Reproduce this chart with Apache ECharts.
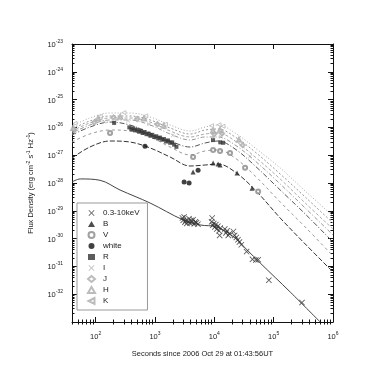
<!DOCTYPE html>
<html>
<head>
<meta charset="utf-8">
<script src="https://cdn.jsdelivr.net/npm/echarts@6/dist/echarts.min.js"></script>
<style>
  html, body { margin: 0; padding: 0; background: #fff; }
  #chart { width: 388px; height: 388px; }
</style>
</head>
<body>
<div id="chart"></div>
<script>
// band names in legend order
const bandNames = ['0.3-10keV', 'B', 'V', 'white', 'R', 'I', 'J', 'H', 'K'];

// observed points [seconds, flux density]
const xrayPts = [
  [2900, 5.5e-30], [3000, 4.6e-30], [3100, 6.0e-30], [3200, 3.9e-30], [3300, 4.4e-30],
  [3450, 3.5e-30], [3600, 4.1e-30], [3750, 5.2e-30], [3900, 3.6e-30], [4050, 4.5e-30],
  [4200, 3.8e-30], [4400, 4.8e-30], [4600, 3.4e-30], [4800, 4.0e-30], [5000, 3.7e-30],
  [5300, 3.3e-30], [9000, 4.0e-30], [9200, 5.5e-30], [9400, 3.0e-30], [9800, 3.5e-30],
  [10200, 2.6e-30], [10600, 3.2e-30], [11000, 2.2e-30], [11500, 2.8e-30], [12000, 1.9e-30],
  [12300, 1.3e-30], [12600, 2.4e-30], [15000, 2.2e-30], [15700, 1.6e-30], [16400, 1.9e-30],
  [17200, 1.3e-30], [18000, 1.5e-30], [21000, 1.8e-30], [22000, 1.3e-30], [23500, 1.1e-30],
  [25000, 9.0e-31], [26500, 7.5e-31], [28500, 6.0e-31], [35000, 3.4e-31], [44000, 1.8e-31],
  [50000, 1.7e-31], [55000, 1.75e-31], [83000, 3.2e-32], [300000, 5.0e-33]
];
const bPts = [
  [4390, 2.5e-28], [9550, 5.2e-28], [11600, 4.8e-28], [12500, 4.4e-28], [24200, 2.3e-28], [43300, 6.5e-29]
];
const vPts = [
  [175, 6.3e-27], [4390, 8.6e-28], [9550, 1.54e-27], [12500, 1.42e-27], [18400, 1.2e-27],
  [33000, 3.5e-28], [54800, 4.9e-29]
];
const whitePts = [[680, 2.1e-27], [3100, 1.09e-28], [3760, 1.0e-28], [5330, 2.9e-28]];
const rPts = [
  [205, 1.45e-26], [370, 1.0e-26], [400, 8.5e-27], [430, 9.2e-27], [460, 7.8e-27], [500, 8.3e-27],
  [540, 7.0e-27], [580, 7.5e-27], [620, 6.3e-27], [670, 6.8e-27], [720, 5.7e-27], [780, 6.0e-27],
  [840, 5.0e-27], [900, 5.4e-27], [970, 4.5e-27], [1050, 4.8e-27], [1130, 4.0e-27], [1220, 4.3e-27],
  [1320, 3.6e-27], [1420, 3.8e-27], [1540, 3.1e-27], [1660, 3.4e-27], [1800, 2.8e-27], [1950, 2.9e-27],
  [2100, 2.4e-27], [2300, 2.0e-27], [9500, 3.5e-27], [12600, 2.9e-27], [14100, 2.8e-27]
];
const iPts = [
  [43, 6.5e-27], [140, 1.6e-26], [350, 1.75e-26], [800, 1.3e-26], [2000, 5.2e-27],
  [9800, 4.4e-27], [12800, 4.6e-27], [40000, 9.0e-28]
];
const jPts = [
  [44, 8.0e-27], [95, 1.5e-26], [200, 2.3e-26], [500, 2.0e-26], [1100, 1.3e-26],
  [10000, 5.8e-27], [13500, 6.0e-27], [30000, 2.3e-27]
];
const hPts = [
  [42, 9.5e-27], [110, 2.1e-26], [260, 2.4e-26], [650, 2.1e-26], [1400, 1.15e-26],
  [9500, 7.8e-27], [12500, 8.2e-27], [26000, 3.6e-27]
];
const kPts = [
  [45, 1.4e-26], [120, 2.5e-26], [300, 3.4e-26], [700, 2.6e-26], [1500, 1.3e-26],
  [9000, 1.15e-26], [12000, 1.25e-26], [14000, 1.1e-26]
];

// model curves
const xrayModelT = [40, 55, 119, 258, 826, 2980, 5750, 11100, 22400, 35700, 59200, 190000, 608000];
const xrayModelF = [1.09e-28, 1.4e-28, 1.25e-28, 5.6e-29, 1.91e-29, 4.7e-30, 3.1e-30, 2.6e-30, 1.05e-30, 3.9e-31, 1.33e-31, 1.2e-32, 1e-33];
const modelT = [40, 80, 175, 380, 830, 1800, 3900, 7000, 11600, 22400, 48800, 129000, 340000, 1000000];
const modelK = [1.12e-26, 2.18e-26, 3.30e-26, 3.30e-26, 2.37e-26, 1.22e-26, 7.43e-27, 1.03e-26, 1.22e-26, 6.29e-27, 1.82e-27, 3.47e-28, 5.15e-29, 6.5e-30];
const modelH = [8.75e-27, 1.70e-26, 2.57e-26, 2.57e-26, 1.85e-26, 9.5e-27, 5.79e-27, 8.05e-27, 8.75e-27, 4.52e-27, 1.30e-27, 2.11e-28, 3.13e-29, 3.64e-30];
const modelJ = [7.43e-27, 1.44e-26, 2.18e-26, 2.18e-26, 1.56e-26, 7.43e-27, 4.52e-27, 5.79e-27, 6.29e-27, 3.24e-27, 8.6e-28, 1.39e-28, 1.91e-29, 2.21e-30];
const modelI = [6.29e-27, 1.22e-26, 1.85e-26, 1.85e-26, 1.22e-26, 5.79e-27, 3.52e-27, 4.52e-27, 4.52e-27, 2.33e-27, 6.2e-28, 9.2e-29, 1.26e-29, 1.35e-30];
const modelR = [5.33e-27, 1.03e-26, 1.56e-26, 1.22e-26, 6.29e-27, 3.24e-27, 1.97e-27, 2.75e-27, 3.24e-27, 1.67e-27, 4.09e-28, 5.6e-29, 7.7e-30, 7.5e-31];
const modelV = [2.98e-27, 5.79e-27, 8.05e-27, 7.43e-27, 4.52e-27, 1.97e-27, 1.02e-27, 1.42e-27, 1.54e-27, 7.9e-28, 1.79e-28, 2.07e-29, 2.61e-30, 2.37e-31];
const modelB = [7.9e-28, 1.97e-27, 3.24e-27, 2.98e-27, 1.82e-27, 8.6e-28, 4.09e-28, 4.44e-28, 4.82e-28, 2.49e-28, 5.6e-29, 5.5e-30, 6.4e-31, 6.3e-32];

const FONT = 'Liberation Sans';
const X_MIN = 40, X_MAX = 1e6, Y_MIN = 1e-33, Y_MAX = 1e-23;

// minor tick positions (log space) for the overlay axes
const xMinor = [];
for (let n = 1; n <= 5; n++) for (let k = 2; k <= 9; k++) xMinor.push(Math.log10(k) + n);
const yMinor = [];
for (let n = -33; n <= -24; n++) for (let k = 2; k <= 9; k++) yMinor.push(Math.log10(k) + n);

const chart = echarts.init(document.getElementById('chart'));

function powLabel(v) {
  const e = Math.log10(v);
  const r = Math.round(e);
  if (Math.abs(e - r) > 1e-6) return '';
  return '{b|10}{s|' + r + '}';
}
const labelRich = {
  b: { fontSize: 7.5, fontFamily: FONT, color: '#222', lineHeight: 10, verticalAlign: 'bottom' },
  s: { fontSize: 5, fontFamily: FONT, color: '#222', lineHeight: 5, verticalAlign: 'top' }
};
const lineCol = { lineStyle: { color: '#111', width: 1 } };

function logAxis(pos, min, max, withLabels, extra) {
  return Object.assign({
    type: 'log', position: pos, min: min, max: max, logBase: 10,
    axisLine: Object.assign({ show: true, onZero: false }, lineCol),
    axisTick: { show: true, inside: true, length: 5, lineStyle: { color: '#111' } },
    axisLabel: { show: withLabels, formatter: powLabel, rich: labelRich, margin: 9 },
    splitLine: { show: false }
  }, extra || {});
}
function minorAxis(pos, min, max, vals) {
  return {
    type: 'value', position: pos, min: min, max: max,
    axisLine: { show: false },
    axisTick: { show: true, inside: true, length: 2.5, customValues: vals, lineStyle: { color: '#111' } },
    axisLabel: { show: false },
    splitLine: { show: false }
  };
}

const cross = 'path://M0,1L1,0L5,4L9,0L10,1L6,5L10,9L9,10L5,6L1,10L0,9L4,5Z';
const leftTri = 'path://M10,0L0,5L10,10Z';

function pts(name, data, symbol, size, style) {
  return { name: name, type: 'scatter', data: data, symbol: symbol, symbolSize: size, itemStyle: style, z: 5, silent: true };
}
function model(name, t, f, color, type, width) {
  return {
    name: name, type: 'line', data: t.map((v, i) => [v, f[i]]), symbol: 'none',
    smooth: 0.35, silent: true, z: 2,
    lineStyle: { color: color, type: type, width: width || 1 }
  };
}

// the log scale may hand the top label over twice; print each power once
const yLabelsSeen = {};
function yLabel(v) {
  const s = powLabel(v);
  if (!s || yLabelsSeen[s]) return '';
  yLabelsSeen[s] = true;
  return s;
}

const option = {
  animation: false,
  backgroundColor: '#fff',
  grid: { left: 72, right: 55, top: 44, bottom: 66, containLabel: false, outerBoundsMode: 'none' },
  xAxis: [
    logAxis('bottom', X_MIN, X_MAX, true, {
      name: 'Seconds since 2006 Oct 29 at 01:43:56UT', nameLocation: 'middle', nameGap: 28,
      nameTextStyle: { fontSize: 7.5, fontFamily: FONT, color: '#222' }
    }),
    logAxis('top', X_MIN, X_MAX, false),
    minorAxis('bottom', Math.log10(X_MIN), Math.log10(X_MAX), xMinor),
    minorAxis('top', Math.log10(X_MIN), Math.log10(X_MAX), xMinor)
  ],
  yAxis: [
    logAxis('left', Y_MIN, Y_MAX, true, {
      interval: 1,
      axisLabel: { show: true, formatter: yLabel, rich: labelRich, margin: 9 },
      name: 'Flux Density (erg cm{s|-2} s{s|-1} Hz{s|-1})', nameLocation: 'middle', nameGap: 36, nameRotate: 90,
      nameMoveOverlap: false,
      nameTextStyle: {
        fontSize: 7.5, fontFamily: FONT, color: '#222', lineHeight: 10,
        rich: { s: { fontSize: 5, fontFamily: FONT, color: '#222', lineHeight: 5, verticalAlign: 'top' } }
      }
    }),
    logAxis('right', Y_MIN, Y_MAX, false, { interval: 1 }),
    minorAxis('left', -33, -23, yMinor),
    minorAxis('right', -33, -23, yMinor)
  ],
  legend: {
    data: bandNames, orient: 'vertical', left: 77, top: 203,
    itemWidth: 7, itemHeight: 6, itemGap: 3,
    padding: [6, 8, 5, 10],
    backgroundColor: '#fff', borderColor: '#999', borderWidth: 1,
    textStyle: { fontSize: 8, fontFamily: FONT, color: '#222', padding: [0, 0, 0, 3] },
    selectedMode: false
  },
  series: [
    model('xray model', xrayModelT, xrayModelF, '#444', 'solid'),
    model('K model', modelT, modelK, '#aaa', [1, 2]),
    model('H model', modelT, modelH, '#999', [2, 2]),
    model('J model', modelT, modelJ, '#aaa', [3, 2]),
    model('I model', modelT, modelI, '#999', [4, 2, 1, 2]),
    model('R model', modelT, modelR, '#555', [5, 2, 1, 2]),
    model('V model', modelT, modelV, '#999', [3, 3]),
    model('B model', modelT, modelB, '#333', [5, 2]),
    pts('0.3-10keV', xrayPts, cross, 6, { color: '#333' }),
    pts('B', bPts, 'triangle', 5, { color: '#222' }),
    pts('V', vPts, 'emptyCircle', 4, { color: '#888', borderWidth: 0.8 }),
    pts('white', whitePts, 'circle', 5, { color: '#111' }),
    pts('R', rPts, 'rect', 4, { color: '#333' }),
    pts('I', iPts, cross, 4, { color: '#aaa' }),
    pts('J', jPts, 'emptyDiamond', 4, { color: '#aaa', borderWidth: 0.8 }),
    pts('H', hPts, 'emptyTriangle', 4, { color: '#aaa', borderWidth: 0.8 }),
    pts('K', kPts, leftTri, 4, { color: '#fff', borderColor: '#aaa', borderWidth: 0.8 })
  ]
};

chart.setOption(option);
</script>
</body>
</html>
